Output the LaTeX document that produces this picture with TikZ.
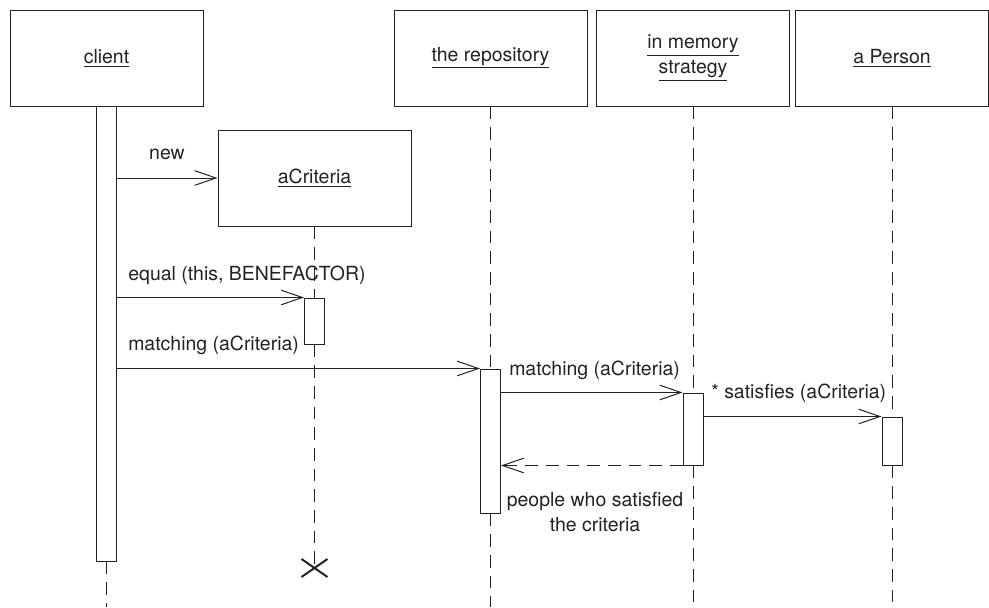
\documentclass[tikz,border=0pt]{standalone}
\usepackage{fontspec}
\setmainfont{TeX Gyre Heros}
\usetikzlibrary{arrows.meta,fit}
\definecolor{ink}{RGB}{34,34,34}
\begin{document}
\begin{tikzpicture}[x=0.75pt,y=-0.75pt,
  every node/.style={text=ink,font=\fontsize{14.6}{18.75}\selectfont},
  objbox/.style={draw=ink,line width=0.75pt,minimum width=144.75pt,minimum height=72pt,inner sep=0pt,align=center},
  actbar/.style={draw=ink,line width=0.75pt,inner sep=0pt,fill=white},
  lifeln/.style={draw=ink,line width=0.75pt,dash pattern=on 9.5pt off 6pt},
  msg/.style={draw=ink,line width=0.75pt,-{Straight Barb[length=16pt,width=11pt,line width=0.75pt]}},
  retmsg/.style={draw=ink,line width=0.75pt,dash pattern=on 9.5pt off 6pt,-{Straight Barb[length=16pt,width=11pt,line width=0.75pt]}},
  lbl/.style={inner sep=0pt}
]
\useasboundingbox (0,0) rectangle (989,607);

% object boxes
\node[objbox] (client) at (106.5,58) {\underline{client}};
\node[objbox] (acrit) at (314.5,178) {\underline{aCriteria}};
\node[objbox] (repo) at (490.5,58) {\underline{the repository}};
\node[objbox] (mem) at (693,58) {\underline{in memory}\\[0pt]\underline{strategy}};
\node[objbox] (per) at (892,58) {\underline{a Person}};

% bottom ends of lifelines
\coordinate (clientend) at (106.5,607);
\coordinate (repoend) at (490.5,607);
\coordinate (memend) at (693,607);
\coordinate (perend) at (892,607);
\coordinate (xmark) at (314.5,568);

% activation bars
\node[actbar,fit={(96.5,106) (116.5,561)}] (ca) {};
\node[actbar,fit={(304.5,298) (324.5,344)}] (aact) {};
\node[actbar,fit={(480.5,369) (500.5,513)}] (ract) {};
\node[actbar,fit={(683,393) (703,465)}] (mact) {};
\node[actbar,fit={(882,417) (902,465)}] (pact) {};

% lifelines
\draw[lifeln] (ca.south) -- (clientend);
\draw[lifeln] (acrit.south) -- (aact.north);
\draw[lifeln] (aact.south) -- (xmark);
\draw[lifeln] (repo.south) -- (ract.north);
\draw[lifeln] (ract.south) -- (repoend);
\draw[lifeln] (mem.south) -- (mact.north);
\draw[lifeln] (mact.south) -- (memend);
\draw[lifeln] (per.south) -- (pact.north);
\draw[lifeln] (pact.south) -- (perend);

% destruction mark
\draw[draw=ink,line width=1.5pt] ([shift={(-13,-9)}]xmark) -- ([shift={(13,9)}]xmark)
  ([shift={(-13,9)}]xmark) -- ([shift={(13,-9)}]xmark);

% messages
\draw[msg] (ca.east |- acrit.west) -- (acrit.west);
\node[lbl] (lnew) at (167,154) {new};

\draw[msg] (ca.east |- aact.north west) -- (aact.north west);
\node[lbl,anchor=west] (lequal) at (128,275) {equal (this, BENEFACTOR)};

\draw[msg] (ca.east |- ract.north west) -- (ract.north west);
\node[lbl,anchor=west] (lmatch1) at (128,345) {matching (aCriteria)};

\draw[msg] (ract.east |- mact.north west) -- (mact.north west);
\node[lbl,anchor=west] (lmatch2) at (509,370) {matching (aCriteria)};

\draw[msg] (mact.east |- pact.north west) -- (pact.north west);
\node[lbl,anchor=west] (lsat) at (711,393) {* satisfies (aCriteria)};

\draw[retmsg] (mact.south west) -- (ract.east |- mact.south west);
\node[lbl,align=center] (lret) at (595,512.5) {people who satisfied\\the criteria};
\end{tikzpicture}
\end{document}
